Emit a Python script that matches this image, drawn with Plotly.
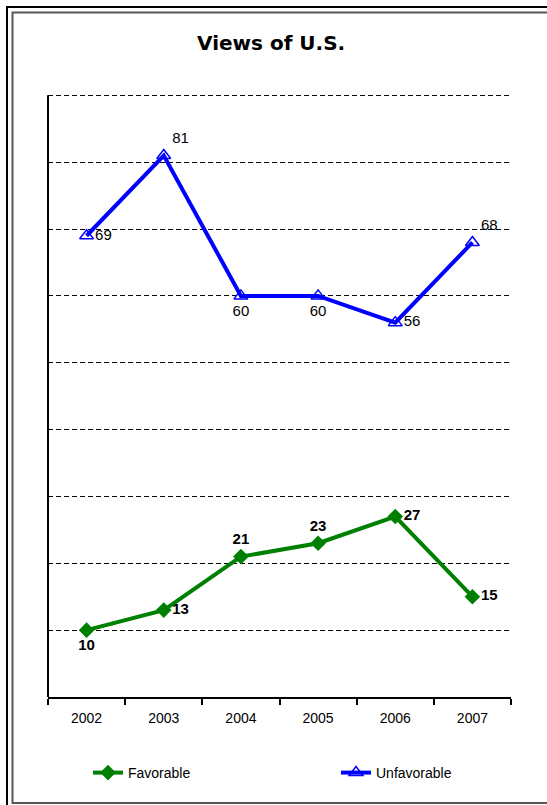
import plotly.graph_objects as go

years = ["2002", "2003", "2004", "2005", "2006", "2007"]
favorable = [10, 13, 21, 23, 27, 15]
unfavorable = [69, 81, 60, 60, 56, 68]
fav_pos = ["bottom center", "middle right", "top center", "top center", "middle right", "middle right"]
unf_pos = ["middle right", "top right", "bottom center", "bottom center", "middle right", "top right"]
title_text = "Views of U.S."

GREEN = "#008000"
BLUE = "#0000FF"
FONT = "Liberation Sans, Arial, sans-serif"

W, H = 547, 805
YMAX = 92
ML, MR, MB = 48, 36, 108
plot_h = round((H - MB - 95) * YMAX / 90)
MT = H - MB - plot_h
plot_w = W - ML - MR

fig = go.Figure()
fig.add_trace(go.Scatter(
    x=years, y=favorable, name="Favorable", mode="lines+markers+text",
    line=dict(color=GREEN, width=4),
    marker=dict(symbol="diamond", size=12, color=GREEN),
    text=[str(v) for v in favorable], textposition=fav_pos,
    textfont=dict(family=FONT, size=15, color="black", weight="bold"),
    cliponaxis=False, legend="legend",
))
fig.add_trace(go.Scatter(
    x=years, y=unfavorable, name="Unfavorable", mode="lines+markers+text",
    line=dict(color=BLUE, width=4),
    marker=dict(symbol="triangle-up-open", size=12, color=BLUE, line=dict(width=1.5, color=BLUE)),
    text=[str(v) for v in unfavorable], textposition=unf_pos,
    textfont=dict(family=FONT, size=15, color="black"),
    cliponaxis=False, legend="legend2",
))

def fx(p):
    return (p - ML) / plot_w
def fy(p):
    return (H - MB - p) / plot_h

leg_common = dict(orientation="h", xref="container", yref="container",
                  xanchor="left", yanchor="middle", y=1 - 773 / H,
                  font=dict(size=14), bgcolor="rgba(0,0,0,0)")

fig.update_layout(
    width=W, height=H,
    margin=dict(l=ML, r=MR, t=MT, b=MB),
    paper_bgcolor="white", plot_bgcolor="white",
    font=dict(family=FONT, size=12, color="black"),
    showlegend=True,
    legend=dict(x=88 / W, **leg_common),
    legend2=dict(x=336 / W, **leg_common),
    annotations=[dict(text="<b>" + title_text + "</b>", xref="paper", yref="paper",
                      x=fx(271), y=fy(43), yanchor="middle", showarrow=False,
                      font=dict(family="DejaVu Sans", size=20, color="black"))],
)

# double frame
fig.add_shape(type="rect", xref="paper", yref="paper", x0=fx(7), x1=fx(560), y0=fy(7), y1=fy(820),
              line=dict(color="black", width=2), layer="below")
fig.add_shape(type="rect", xref="paper", yref="paper", x0=fx(12.5), x1=fx(560), y0=fy(12.5), y1=fy(803),
              line=dict(color="#555555", width=2), layer="below")

fig.update_xaxes(
    type="category", range=[-0.5, 5.5], showline=True, linecolor="black", linewidth=2,
    ticks="outside", tickson="boundaries", ticklen=6, tickwidth=1.5, tickcolor="black",
    showgrid=False, tickfont=dict(size=14), ticklabelstandoff=7, fixedrange=True,
)
fig.update_yaxes(
    range=[0, YMAX], tickvals=[10, 20, 30, 40, 50, 60, 70, 80, 90], showline=False,
    showticklabels=False, ticks="", showgrid=True, gridcolor="black", gridwidth=1,
    griddash="5px,3px", zeroline=False, fixedrange=True,
)
# y axis line from 0 to 90 only (top of gridded area)
fig.add_shape(type="line", xref="paper", yref="y", x0=0, x1=0, y0=0, y1=90,
              line=dict(color="black", width=2))

fig.write_html("out.html")
